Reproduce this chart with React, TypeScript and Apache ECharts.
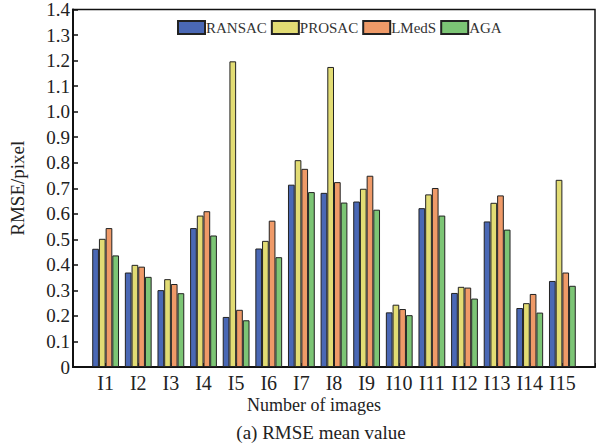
import React, { useEffect, useRef } from "react";
import * as echarts from "echarts";

const categories = ["I1", "I2", "I3", "I4", "I5", "I6", "I7", "I8", "I9", "I10", "I11", "I12", "I13", "I14", "I15"];
const ransac = [0.463, 0.37, 0.301, 0.544, 0.196, 0.464, 0.714, 0.682, 0.648, 0.214, 0.622, 0.29, 0.57, 0.231, 0.337];
const prosac = [0.502, 0.4, 0.344, 0.593, 1.197, 0.494, 0.81, 1.175, 0.698, 0.244, 0.676, 0.314, 0.643, 0.25, 0.733];
const lmeds = [0.544, 0.393, 0.325, 0.61, 0.224, 0.573, 0.776, 0.724, 0.749, 0.227, 0.701, 0.311, 0.672, 0.286, 0.37];
const aga = [0.437, 0.353, 0.289, 0.515, 0.183, 0.43, 0.685, 0.644, 0.616, 0.203, 0.593, 0.268, 0.538, 0.213, 0.318];
const seriesNames = ["RANSAC", "PROSAC", "LMedS", "AGA"];
const colors = ["#4a68b5", "#e2dc74", "#ef9a68", "#7cc575"];
const yTicks = [0, 0.1, 0.2, 0.3, 0.4, 0.5, 0.6, 0.7, 0.8, 0.9, 1.0, 1.1, 1.2, 1.3, 1.4];

const FONT = "'Liberation Serif', 'DejaVu Serif', serif";

export default function App() {
  const ref = useRef<HTMLDivElement>(null);
  useEffect(() => {
    if (!ref.current) return;
    const chart = echarts.init(ref.current, null, { renderer: "svg" });
    const all = [ransac, prosac, lmeds, aga];
    chart.setOption({
      animation: false,
      backgroundColor: "#fff",
      textStyle: { fontFamily: FONT, color: "#222" },
      grid: {
        left: 65,
        top: 9,
        right: -1,
        bottom: 81,
        show: true,
        borderColor: "#111",
        borderWidth: 1.5,
      },
      legend: {
        left: 172,
        top: 15,
        icon: "rect",
        itemWidth: 27,
        itemHeight: 13,
        itemGap: 4,
        data: seriesNames,
        textStyle: { fontFamily: FONT, fontSize: 15, color: "#333", padding: [0, 0, 0, -4] },
      },
      xAxis: {
        type: "value",
        min: 0,
        max: categories.length + 1,
        interval: 1,
        splitLine: { show: false },
        axisLine: { lineStyle: { color: "#111", width: 2 } },
        axisTick: { inside: true, length: 4, lineStyle: { color: "#111" } },
        axisLabel: {
          fontFamily: FONT,
          fontSize: 20,
          color: "#222",
          margin: 6,
          formatter: (v: number) => (v >= 1 && v <= categories.length ? categories[v - 1] : ""),
        },
      },
      yAxis: {
        type: "value",
        min: 0,
        max: 1.4,
        interval: 0.1,
        splitLine: { show: false },
        axisLine: { show: true, lineStyle: { color: "#111", width: 2 } },
        axisTick: { show: true, inside: true, length: 5, lineStyle: { color: "#111", width: 1.5 } },
        axisLabel: {
          fontFamily: FONT,
          fontSize: 19,
          color: "#222",
          margin: 3,
          formatter: (v: number) => {
            const t = yTicks.find((x) => Math.abs(x - v) < 1e-6);
            const val = t === undefined ? v : t;
            return val === 0 ? "0" : val.toFixed(1);
          },
        },
        name: "RMSE/pixel",
        nameLocation: "middle",
        nameGap: 46,
        nameTextStyle: { fontFamily: FONT, fontSize: 19, color: "#222" },
      },
      graphic: [
        {
          type: "text",
          x: 314,
          y: 396,
          style: { text: "Number of images", fontFamily: FONT, fontSize: 18, fill: "#222", align: "center" },
        },
        {
          type: "text",
          x: 321,
          y: 423,
          style: { text: "(a) RMSE mean value", fontFamily: FONT, fontSize: 19, fill: "#222", align: "center" },
        },
      ],
      series: seriesNames.map((name, si) => ({
        name,
        type: "bar",
        barWidth: 6.7,
        barGap: "0%",
        itemStyle: { color: colors[si], borderColor: "#222", borderWidth: 1 },
        data: all[si].map((v, i) => [i + 1, v]),
      })),
    });
    return () => chart.dispose();
  }, []);
  return (
    <div
      ref={ref}
      style={{ position: "absolute", left: 0, top: 0, width: 598, height: 448, background: "#fff" }}
    />
  );
}
